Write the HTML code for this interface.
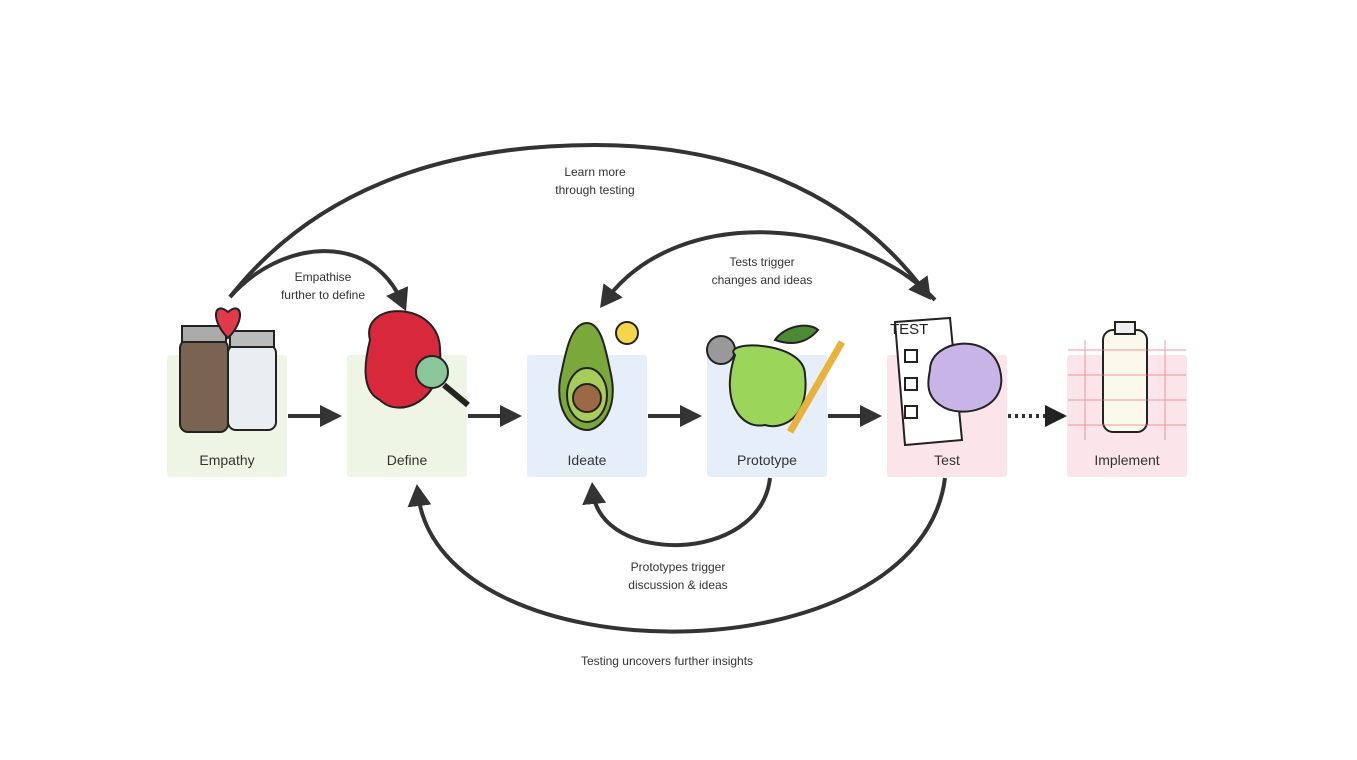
<!DOCTYPE html>
<html><head><meta charset="utf-8"><style>
html,body{margin:0;padding:0;background:#fff;}
body{width:1357px;height:755px;overflow:hidden;font-family:"Liberation Sans",sans-serif;}
</style></head><body>
<svg width="1357" height="755" viewBox="0 0 1357 755" xmlns="http://www.w3.org/2000/svg">
<defs>
<marker id="ah" markerWidth="7" markerHeight="7" refX="3" refY="3" orient="auto" markerUnits="strokeWidth">
<path d="M0,0 L5.5,3 L0,6 Z" fill="#333"/></marker>
</defs>
<rect x="167" y="355" width="120" height="122" rx="3" fill="#eef5e5"/>
<rect x="347" y="355" width="120" height="122" rx="3" fill="#eef5e5"/>
<rect x="527" y="355" width="120" height="122" rx="3" fill="#e5eef9"/>
<rect x="707" y="355" width="120" height="122" rx="3" fill="#e5eef9"/>
<rect x="887" y="355" width="120" height="122" rx="3" fill="#fbe5ea"/>
<rect x="1067" y="355" width="120" height="122" rx="3" fill="#fbe5ea"/>
<g font-size="14" fill="#333" text-anchor="middle">
<text x="227" y="465">Empathy</text><text x="407" y="465">Define</text>
<text x="587" y="465">Ideate</text><text x="767" y="465">Prototype</text>
<text x="947" y="465">Test</text><text x="1127" y="465">Implement</text>
</g>
<g stroke="#222" stroke-width="2">
<rect x="180" y="340" width="48" height="92" rx="8" fill="#7a6350"/>
<rect x="182" y="326" width="44" height="16" fill="#aaa"/>
<rect x="228" y="345" width="48" height="85" rx="8" fill="#e8eef2"/>
<rect x="230" y="331" width="44" height="16" fill="#bbb"/>
<path d="M228,338 C210,320 214,300 228,312 C242,300 246,320 228,338Z" fill="#e03a4a"/>
<path d="M370,340 C360,300 440,300 440,350 C445,400 400,420 380,400 C360,390 365,360 370,340Z" fill="#d8283c"/>
<circle cx="432" cy="372" r="16" fill="#8bc59a"/>
<line x1="444" y1="385" x2="468" y2="405" stroke-width="6"/>
<path d="M587,323 C600,323 605,345 610,370 C620,410 600,430 587,430 C572,430 552,410 562,370 C567,345 573,323 587,323Z" fill="#7aa83a"/>
<ellipse cx="587" cy="395" rx="20" ry="27" fill="#a8cc5a"/>
<circle cx="587" cy="398" r="14" fill="#9b6a45"/>
<circle cx="627" cy="333" r="11" fill="#f5d54a"/>
<circle cx="721" cy="350" r="14" fill="#999"/>
<path d="M735,355 C720,340 805,340 805,375 C810,420 780,430 765,425 C740,430 720,400 735,355Z" fill="#9bd55a"/>
<path d="M775,340 C785,325 810,322 818,330 C805,345 790,345 775,340Z" fill="#4d8a34"/>
<line x1="842" y1="342" x2="790" y2="432" stroke-width="7" stroke="#e8b33a"/>
<path d="M895,322 L950,318 L962,440 L905,445 Z" fill="#fff"/>
<path d="M930,370 C930,340 990,330 1000,370 C1010,410 960,420 940,405 C925,395 928,380 930,370Z" fill="#c8b4e6"/>
<rect x="905" y="350" width="12" height="12" fill="#fff"/>
<rect x="905" y="378" width="12" height="12" fill="#fff"/>
<rect x="905" y="406" width="12" height="12" fill="#fff"/>
<rect x="1103" y="330" width="44" height="102" rx="10" fill="#fbf8ec"/>
<rect x="1115" y="322" width="20" height="12" fill="#eee"/>
</g>
<text x="890" y="334" font-size="15" fill="#222">TEST</text>
<g stroke="#e8707c" stroke-width="1" opacity="0.7">
<line x1="1068" y1="350" x2="1186" y2="350"/><line x1="1068" y1="375" x2="1186" y2="375"/>
<line x1="1068" y1="400" x2="1186" y2="400"/><line x1="1068" y1="425" x2="1186" y2="425"/>
<line x1="1085" y1="340" x2="1085" y2="440"/><line x1="1165" y1="340" x2="1165" y2="440"/>
</g>
<g stroke="#333" stroke-width="4" fill="none">
<line x1="288" y1="416" x2="322" y2="416"/>
<line x1="468" y1="416" x2="502" y2="416"/>
<line x1="648" y1="416" x2="682" y2="416"/>
<line x1="828" y1="416" x2="862" y2="416"/>
<line x1="1008" y1="416" x2="1045" y2="416" stroke-dasharray="3,4"/>
</g>
<g fill="#333">
<path d="M320,405 L342,416 L320,427Z"/>
<path d="M500,405 L522,416 L500,427Z"/>
<path d="M680,405 L702,416 L680,427Z"/>
<path d="M860,405 L882,416 L860,427Z"/>
<path d="M1045,405 L1067,416 L1045,427Z" fill="#222"/>
</g>
<g stroke="#333" stroke-width="4" fill="none">
<path d="M230,297 C330,170 480,145 595,145 C730,145 850,190 925,292" marker-end="url(#ah)"/>
<path d="M230,297 C280,240 370,230 402,302" marker-end="url(#ah)"/>
<path d="M935,300 C860,220 680,200 606,300" marker-end="url(#ah)"/>
<path d="M770,478 C760,565 600,565 593,492" marker-end="url(#ah)"/>
<path d="M945,478 C920,680 440,680 418,494" marker-end="url(#ah)"/>
</g>
<g font-size="12" fill="#333" text-anchor="middle">
<text x="595" y="176">Learn more</text><text x="595" y="194">through testing</text>
<text x="323" y="281">Empathise</text><text x="323" y="299">further to define</text>
<text x="762" y="266">Tests trigger</text><text x="762" y="284">changes and ideas</text>
<text x="678" y="571">Prototypes trigger</text><text x="678" y="589">discussion &amp; ideas</text>
<text x="667" y="665">Testing uncovers further insights</text>
</g>
</svg>
</body></html>
